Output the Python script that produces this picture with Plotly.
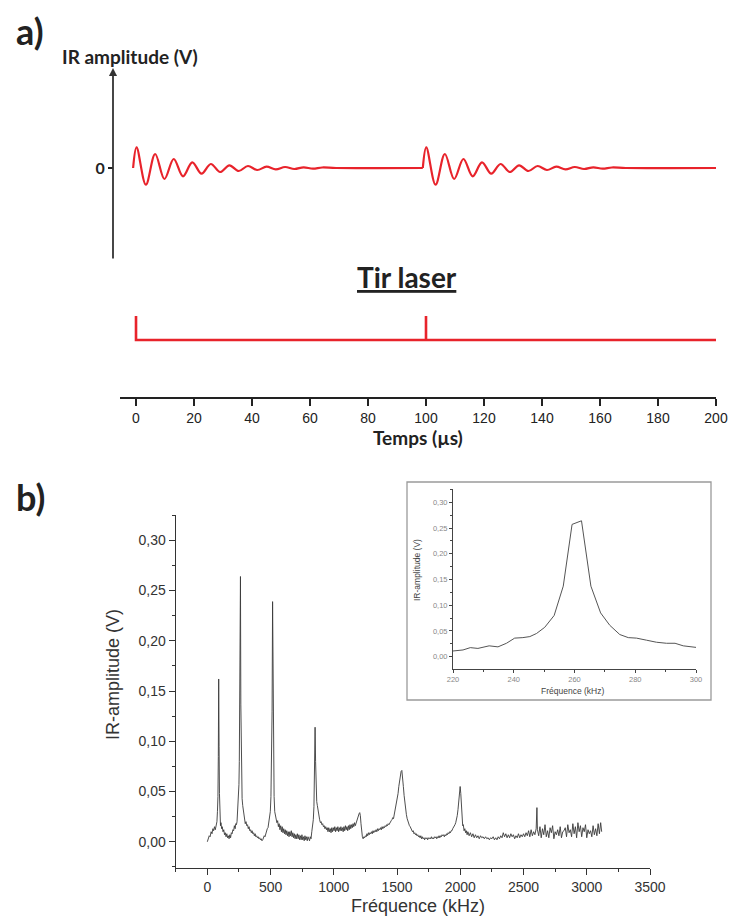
import plotly.graph_objects as go

W, H = 729, 919


def px(x):
    return x / W


def py(y):
    return 1 - y / H


# ---------------- panel a) data ----------------
burst_start_us = [-1.0, 98.9]
burst_rel_us = [0, 1.2, 4.4, 7.6, 10.8, 14.0, 17.2, 20.4, 23.6, 26.8, 30.0, 33.2,
                36.4, 39.6, 42.8, 46.0, 49.2, 52.4, 55.6, 58.8, 62.0, 65.2, 70.0]
burst_amp = [0, 20.7, -16.7, 14.0, -11.0, 9.0, -8.3, 5.7, -5.7, 4.0, -4.0, 2.7,
             -3.0, 2.0, -2.0, 1.3, -1.4, 1.0, -1.0, 0.7, -0.7, 0.5, 0]
time_end_us = 200

laser_t = [0, 0, 100, 100, 100, 200]
laser_level = [1, 0, 0, 1, 0, 0]

time_ticks = [0, 20, 40, 60, 80, 100, 120, 140, 160, 180, 200]

# ---------------- panel b) data ----------------
spec_freq = [
    0, 8, 15, 22, 30, 37, 44, 50, 57, 63,
    70, 76, 80, 84, 87, 90, 93, 96, 100, 104,
    108, 113, 118, 124, 130, 136, 142, 148, 154, 160,
    166, 172, 178, 184, 190, 196, 202, 208, 214, 220,
    225, 230, 235, 240, 245, 250, 253, 256, 259, 262,
    265, 268, 271, 275, 280, 285, 290, 295, 300, 306,
    312, 318, 324, 330, 336, 342, 348, 354, 360, 366,
    372, 378, 384, 390, 396, 402, 408, 414, 420, 426,
    432, 438, 444, 450, 456, 462, 468, 474, 480, 486,
    492, 498, 503, 508, 512, 516, 520, 524, 528, 533,
    538, 544, 550, 556, 562, 568, 574, 580, 586, 592,
    598, 604, 610, 616, 622, 628, 634, 640, 646, 652,
    658, 664, 670, 676, 682, 688, 694, 700, 706, 712,
    718, 724, 730, 736, 742, 748, 754, 760, 766, 772,
    778, 784, 790, 796, 802, 808, 814, 820, 826, 832,
    838, 843, 848, 852, 856, 860, 865, 870, 876, 882,
    888, 894, 900, 906, 912, 918, 924, 930, 936, 942,
    948, 954, 960, 966, 972, 978, 984, 990, 996, 1002,
    1008, 1014, 1020, 1026, 1032, 1038, 1044, 1050, 1056, 1062,
    1068, 1074, 1080, 1086, 1092, 1098, 1104, 1110, 1116, 1122,
    1128, 1134, 1140, 1146, 1152, 1158, 1164, 1170, 1176, 1182,
    1188, 1194, 1200, 1205, 1210, 1215, 1220, 1226, 1232, 1238,
    1244, 1250, 1256, 1262, 1268, 1274, 1280, 1286, 1292, 1298,
    1304, 1310, 1316, 1322, 1328, 1334, 1340, 1346, 1352, 1358,
    1364, 1370, 1376, 1382, 1388, 1394, 1400, 1406, 1412, 1418,
    1424, 1430, 1436, 1442, 1448, 1454, 1460, 1466, 1472, 1478,
    1484, 1490, 1496, 1502, 1508, 1514, 1520, 1526, 1532, 1538,
    1544, 1550, 1556, 1562, 1568, 1574, 1580, 1586, 1592, 1598,
    1604, 1610, 1616, 1622, 1628, 1634, 1640, 1646, 1652, 1658,
    1664, 1670, 1676, 1682, 1688, 1694, 1700, 1706, 1712, 1718,
    1724, 1730, 1736, 1742, 1748, 1754, 1760, 1766, 1772, 1778,
    1784, 1790, 1796, 1802, 1808, 1814, 1820, 1826, 1832, 1838,
    1844, 1850, 1856, 1862, 1868, 1874, 1880, 1886, 1892, 1898,
    1904, 1910, 1916, 1922, 1928, 1934, 1940, 1946, 1952, 1958,
    1964, 1970, 1976, 1982, 1988, 1994, 1999, 2004, 2009, 2014,
    2019, 2024, 2030, 2036, 2042, 2048, 2054, 2060, 2070, 2080,
    2090, 2100, 2110, 2120, 2130, 2140, 2150, 2160, 2170, 2180,
    2190, 2200, 2210, 2220, 2230, 2240, 2250, 2260, 2270, 2280,
    2290, 2300, 2310, 2320, 2330, 2340, 2350, 2360, 2370, 2380,
    2390, 2400, 2410, 2420, 2430, 2440, 2450, 2460, 2470, 2480,
    2490, 2500, 2510, 2520, 2530, 2540, 2550, 2560, 2570, 2580,
    2590, 2600, 2606, 2610, 2620, 2630, 2640, 2650, 2660, 2670,
    2680, 2690, 2700, 2710, 2720, 2730, 2740, 2750, 2760, 2770,
    2780, 2790, 2800, 2810, 2820, 2830, 2840, 2850, 2860, 2870,
    2880, 2890, 2900, 2910, 2920, 2930, 2940, 2950, 2960, 2970,
    2980, 2990, 3000, 3010, 3020, 3030, 3040, 3050, 3060, 3070,
    3080, 3090, 3100, 3110, 3118,
]
spec_amp = [
    0.000, 0.003, 0.006, 0.005, 0.010, 0.008, 0.013, 0.011, 0.015, 0.012,
    0.017, 0.020, 0.030, 0.045, 0.085, 0.162, 0.095, 0.048, 0.028, 0.016,
    0.019, 0.013, 0.015, 0.010, 0.012, 0.007, 0.009, 0.005, 0.008, 0.004,
    0.006, 0.003, 0.007, 0.004, 0.009, 0.008, 0.012, 0.011, 0.016, 0.013,
    0.018, 0.017, 0.020, 0.034, 0.039, 0.057, 0.080, 0.137, 0.257, 0.264,
    0.137, 0.088, 0.063, 0.043, 0.036, 0.030, 0.026, 0.021, 0.018, 0.020,
    0.016, 0.017, 0.013, 0.015, 0.011, 0.012, 0.009, 0.011, 0.008, 0.009,
    0.006, 0.008, 0.005, 0.006, 0.004, 0.005, 0.003, 0.004, 0.002, 0.003,
    0.001, 0.002, 0.004, 0.006, 0.005, 0.009, 0.010, 0.013, 0.014, 0.019,
    0.024, 0.030, 0.045, 0.075, 0.130, 0.239, 0.160, 0.075, 0.045, 0.030,
    0.026, 0.022, 0.019, 0.021, 0.015, 0.018, 0.012, 0.016, 0.010, 0.015,
    0.009, 0.013, 0.008, 0.012, 0.007, 0.011, 0.006, 0.010, 0.005, 0.010,
    0.006, 0.011, 0.005, 0.009, 0.004, 0.008, 0.003, 0.007, 0.003, 0.008,
    0.003, 0.007, 0.002, 0.006, 0.002, 0.007, 0.002, 0.005, 0.001, 0.006,
    0.002, 0.005, 0.001, 0.005, 0.002, 0.001, 0.005, 0.003, 0.010, 0.016,
    0.022, 0.035, 0.065, 0.114, 0.080, 0.050, 0.040, 0.036, 0.030, 0.024,
    0.022, 0.019, 0.020, 0.017, 0.018, 0.015, 0.016, 0.013, 0.015, 0.012,
    0.014, 0.010, 0.014, 0.010, 0.013, 0.009, 0.014, 0.010, 0.014, 0.011,
    0.015, 0.010, 0.014, 0.011, 0.015, 0.010, 0.014, 0.011, 0.015, 0.011,
    0.014, 0.010, 0.015, 0.011, 0.016, 0.012, 0.015, 0.011, 0.016, 0.012,
    0.017, 0.013, 0.017, 0.014, 0.018, 0.015, 0.019, 0.016, 0.019, 0.020,
    0.022, 0.025, 0.028, 0.029, 0.026, 0.018, 0.010, 0.005, 0.003, 0.005,
    0.004, 0.006, 0.005, 0.008, 0.006, 0.009, 0.007, 0.009, 0.008, 0.010,
    0.008, 0.011, 0.009, 0.011, 0.010, 0.012, 0.010, 0.013, 0.011, 0.013,
    0.012, 0.014, 0.012, 0.015, 0.013, 0.015, 0.014, 0.016, 0.015, 0.017,
    0.016, 0.018, 0.017, 0.019, 0.019, 0.021, 0.022, 0.024, 0.023, 0.027,
    0.030, 0.034, 0.038, 0.042, 0.048, 0.055, 0.060, 0.066, 0.070, 0.071,
    0.065, 0.055, 0.046, 0.038, 0.032, 0.027, 0.023, 0.020, 0.018, 0.016,
    0.015, 0.013, 0.012, 0.010, 0.011, 0.008, 0.009, 0.007, 0.008, 0.006,
    0.007, 0.005, 0.006, 0.004, 0.006, 0.003, 0.005, 0.003, 0.004, 0.002,
    0.004, 0.003, 0.004, 0.002, 0.004, 0.003, 0.004, 0.003, 0.005, 0.003,
    0.004, 0.003, 0.005, 0.004, 0.005, 0.003, 0.005, 0.004, 0.006, 0.004,
    0.006, 0.005, 0.007, 0.006, 0.007, 0.005, 0.007, 0.006, 0.008, 0.007,
    0.009, 0.008, 0.010, 0.009, 0.011, 0.011, 0.013, 0.014, 0.016, 0.017,
    0.019, 0.022, 0.026, 0.032, 0.040, 0.050, 0.055, 0.048, 0.035, 0.024,
    0.016, 0.017, 0.011, 0.013, 0.009, 0.011, 0.007, 0.010, 0.006, 0.009,
    0.005, 0.008, 0.004, 0.007, 0.004, 0.006, 0.003, 0.006, 0.004, 0.005,
    0.003, 0.005, 0.003, 0.004, 0.002, 0.004, 0.003, 0.005, 0.002, 0.004,
    0.002, 0.005, 0.003, 0.006, 0.004, 0.009, 0.005, 0.008, 0.004, 0.007,
    0.004, 0.008, 0.005, 0.007, 0.003, 0.006, 0.004, 0.008, 0.004, 0.007,
    0.005, 0.008, 0.005, 0.009, 0.006, 0.011, 0.005, 0.012, 0.006, 0.010,
    0.007, 0.013, 0.034, 0.012, 0.006, 0.015, 0.004, 0.013, 0.007, 0.017,
    0.005, 0.011, 0.004, 0.014, 0.009, 0.016, 0.003, 0.010, 0.007, 0.012,
    0.006, 0.015, 0.004, 0.010, 0.011, 0.014, 0.005, 0.017, 0.009, 0.012,
    0.005, 0.018, 0.008, 0.015, 0.004, 0.019, 0.010, 0.016, 0.005, 0.014,
    0.010, 0.017, 0.004, 0.012, 0.008, 0.011, 0.005, 0.016, 0.007, 0.013,
    0.006, 0.018, 0.008, 0.019, 0.010,
]

freq_ticks = [0, 500, 1000, 1500, 2000, 2500, 3000, 3500]
amp_ticks = [0.00, 0.05, 0.10, 0.15, 0.20, 0.25, 0.30]
amp_tick_labels = ["0,00", "0,05", "0,10", "0,15", "0,20", "0,25", "0,30"]

# inset (zoom on the 260 kHz resonance)
inset_freq = [220, 223.3, 225.7, 228.2, 231.9, 234.8, 237.6, 240.3, 243, 245.3,
              247.5, 250.2, 253.3, 256.3, 259.2, 262.3, 265.4, 268.6, 271.6, 274.9,
              277.7, 280.4, 283.7, 287, 290.3, 293.1, 295.8, 300]
inset_amp = [0.011, 0.013, 0.0175, 0.016, 0.021, 0.019, 0.026, 0.036, 0.037, 0.039,
             0.045, 0.057, 0.080, 0.137, 0.257, 0.264, 0.137, 0.085, 0.061, 0.043,
             0.037, 0.036, 0.032, 0.028, 0.026, 0.026, 0.021, 0.018]
inset_freq_ticks = [220, 240, 260, 280, 300]

RED = "#e8232b"
INK = "#222222"
BOLD_FONT = "Lato"
PLAIN_FONT = "Liberation Sans"

fig = go.Figure()

# damped IR oscillations (one burst per laser shot)
for i, start in enumerate(burst_start_us):
    end = burst_start_us[i + 1] if i + 1 < len(burst_start_us) else time_end_us
    xs = [start + r for r in burst_rel_us] + [end]
    ys = list(burst_amp) + [0]
    fig.add_trace(go.Scatter(x=xs, y=ys, mode="lines", xaxis="x", yaxis="y",
                             line=dict(color=RED, width=2.2, shape="spline", smoothing=1.0),
                             hoverinfo="skip"))

# laser shots
fig.add_trace(go.Scatter(x=laser_t, y=laser_level, mode="lines", xaxis="x", yaxis="y2",
                         line=dict(color=RED, width=2.6), hoverinfo="skip"))

# spectrum
fig.add_trace(go.Scatter(x=spec_freq, y=spec_amp, mode="lines", xaxis="x2", yaxis="y3",
                         line=dict(color="#3a3a3a", width=0.9), hoverinfo="skip"))

# inset
fig.add_trace(go.Scatter(x=inset_freq, y=inset_amp, mode="lines", xaxis="x3", yaxis="y4",
                         line=dict(color="#555555", width=1), hoverinfo="skip"))

axis_common = dict(showgrid=False, zeroline=False, fixedrange=True)

fig.update_layout(
    width=W, height=H, autosize=False,
    margin=dict(l=0, r=0, t=0, b=0, autoexpand=False),
    paper_bgcolor="white", plot_bgcolor="white",
    showlegend=False,
    xaxis=dict(domain=[px(120), px(716)], range=[-5.52, 200], anchor="free",
               position=py(398), showline=True, linecolor=INK, linewidth=1.5,
               ticks="outside", ticklen=7, tickwidth=1.5, tickcolor=INK,
               tickvals=time_ticks,
               tickfont=dict(family=PLAIN_FONT, size=14, color=INK), **axis_common),
    yaxis=dict(domain=[py(260), py(70)], range=[-92, 98], anchor="free",
               position=px(113), showline=False, ticks="outside", ticklen=5,
               tickwidth=1.5, tickcolor=INK, tickvals=[0], ticktext=["<b>0</b>"],
               tickfont=dict(family=BOLD_FONT, size=16, color=INK), **axis_common),
    yaxis2=dict(domain=[py(360), py(300)], range=[-0.833, 1.667], anchor="x",
                visible=False, **axis_common),
    xaxis2=dict(domain=[px(175.7), px(650)], range=[-250, 3500], anchor="y3",
                showline=True, linecolor="#333333", linewidth=1.3,
                ticks="outside", ticklen=6, tickwidth=1.2, tickcolor="#333333",
                tickvals=freq_ticks,
                minor=dict(dtick=250, tick0=-250, ticks="outside", ticklen=3,
                           tickwidth=1, tickcolor="#333333"),
                tickfont=dict(family=PLAIN_FONT, size=14, color="#333333"), **axis_common),
    yaxis3=dict(domain=[py(867.7), py(515)], range=[-0.0258, 0.3252], anchor="x2",
                showline=True, linecolor="#333333", linewidth=1.3,
                ticks="outside", ticklen=6, tickwidth=1.2, tickcolor="#333333",
                tickvals=amp_ticks, ticktext=amp_tick_labels,
                minor=dict(dtick=0.025, tick0=0, ticks="outside", ticklen=3,
                           tickwidth=1, tickcolor="#333333"),
                tickfont=dict(family=PLAIN_FONT, size=14, color="#333333"), **axis_common),
    xaxis3=dict(domain=[px(453), px(696)], range=[220, 300], anchor="y4",
                showline=True, linecolor="#444444", linewidth=1,
                ticks="outside", ticklen=3, tickwidth=1, tickcolor="#444444",
                tickvals=inset_freq_ticks,
                minor=dict(dtick=10, tick0=220, ticks="outside", ticklen=2,
                           tickwidth=1, tickcolor="#444444"),
                tickfont=dict(family=PLAIN_FONT, size=7.5, color="#888888"), **axis_common),
    yaxis4=dict(domain=[py(669), py(489.3)], range=[-0.024, 0.3252], anchor="x3",
                showline=True, linecolor="#444444", linewidth=1,
                ticks="outside", ticklen=3, tickwidth=1, tickcolor="#444444",
                tickvals=amp_ticks, ticktext=amp_tick_labels,
                minor=dict(dtick=0.025, tick0=0, ticks="outside", ticklen=2,
                           tickwidth=1, tickcolor="#444444"),
                tickfont=dict(family=PLAIN_FONT, size=7.5, color="#888888"), **axis_common),
    shapes=[
        dict(type="rect", xref="paper", yref="paper",
             x0=px(407), x1=px(711), y0=py(700), y1=py(482),
             line=dict(color="#9a9a9a", width=1.3), fillcolor="white", layer="below"),
    ],
)


def note(text, x, y, size, family=BOLD_FONT, color=INK, angle=0):
    fig.add_annotation(text=text, x=px(x), y=py(y), xref="paper", yref="paper",
                       xanchor="center", yanchor="middle", showarrow=False,
                       textangle=angle, font=dict(family=family, size=size, color=color))


note("<b>a)</b>", 30, 31, 36)
note("<b>IR amplitude (V)</b>", 130, 56, 19)
note("<b><u>Tir laser</u></b>", 407, 277, 28)
note("<b>Temps (µs)</b>", 418, 437, 19)
note("<b>b)</b>", 30, 497, 36)
note("IR-amplitude (V)", 113, 675, 18, family=PLAIN_FONT, color="#333333", angle=-90)
note("Fréquence (kHz)", 418, 906, 18, family=PLAIN_FONT, color="#333333")
note("IR-amplitude (V)", 417, 570, 8.5, family=PLAIN_FONT, color="#444444", angle=-90)
note("Fréquence (kHz)", 572, 691, 8.5, family=PLAIN_FONT, color="#444444")

# vertical arrow of the IR amplitude axis
fig.add_annotation(x=px(113), y=py(68), xref="paper", yref="paper", text="",
                   showarrow=True, ax=0, ay=192, axref="pixel", ayref="pixel",
                   arrowhead=2, arrowsize=0.9, arrowwidth=1.8, arrowcolor="#333333")

# the figure fills the whole window: no page margin, no toolbar
fig.write_html("out.html", config={"responsive": False, "displayModeBar": False},
               post_script="document.body.style.margin='0px';")
